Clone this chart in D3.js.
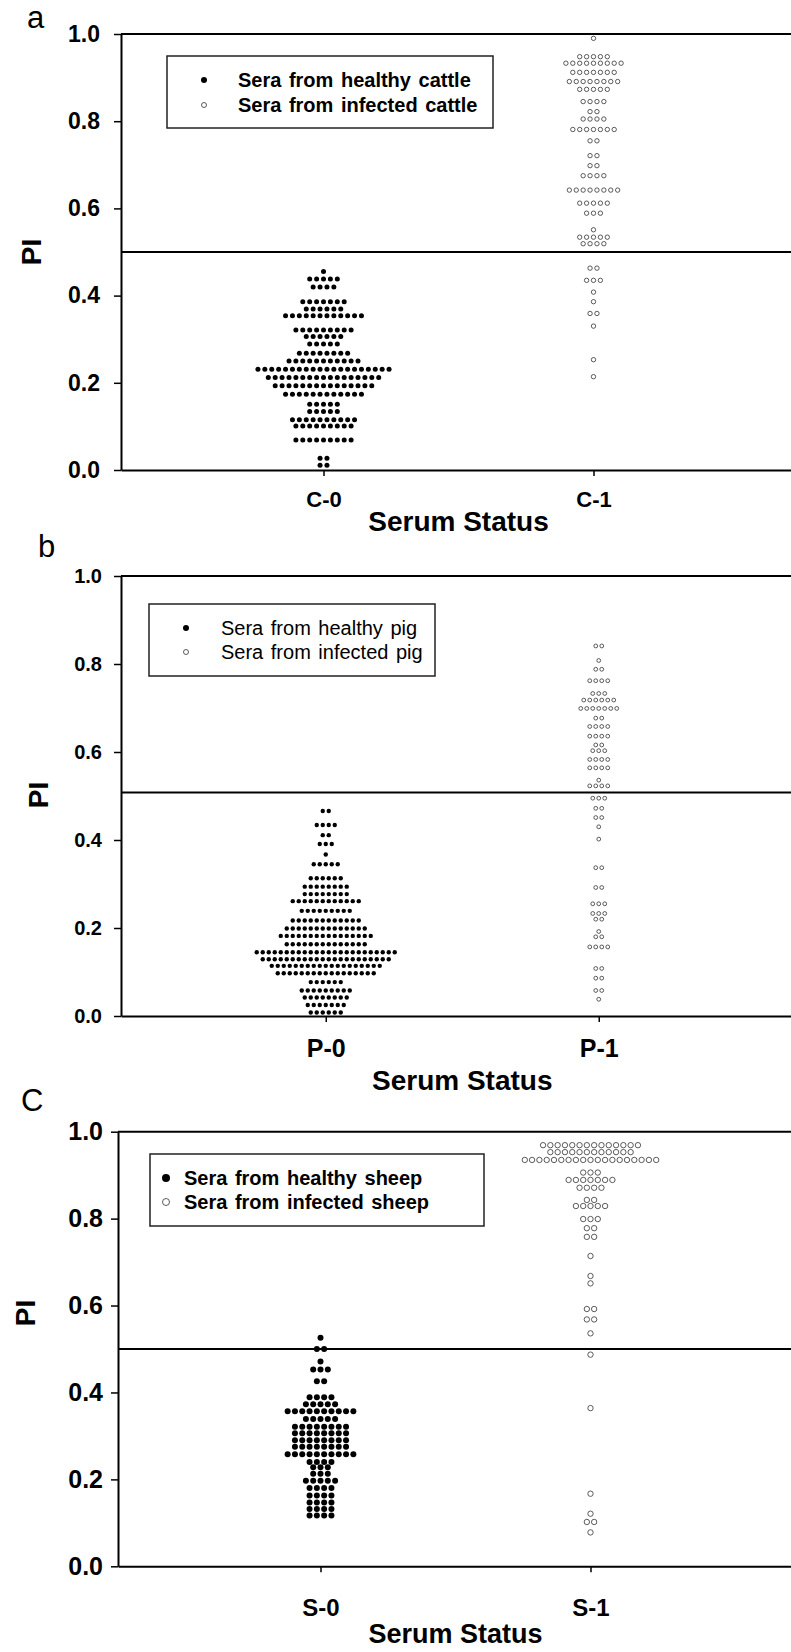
<!DOCTYPE html>
<html>
<head>
<meta charset="utf-8">
<script src="https://cdn.jsdelivr.net/npm/d3@7"></script>
<style>
  body { margin: 0; background: #fff; }
  svg { display: block; }
</style>
</head>
<body>
<svg width="791" height="1652"></svg>
<script>
// each row: [PI value, number of sera at that value]
const cattleHealthy = [[0.455,1],[0.438,5],[0.42,4],[0.386,7],[0.369,6],[0.354,12],[0.321,9],[0.306,6],[0.289,5],[0.268,8],[0.25,11],[0.231,20],[0.212,17],[0.193,15],[0.174,12],[0.151,5],[0.134,5],[0.115,10],[0.101,9],[0.069,9],[0.027,2],[0.011,2]]
const cattleInfected = [[0.99,1],[0.948,5],[0.933,9],[0.912,7],[0.891,8],[0.873,5],[0.845,4],[0.822,2],[0.805,4],[0.781,7],[0.755,2],[0.721,2],[0.698,2],[0.675,4],[0.642,8],[0.612,5],[0.589,3],[0.551,1],[0.534,5],[0.519,4],[0.463,2],[0.435,3],[0.408,1],[0.386,1],[0.359,2],[0.33,1],[0.253,1],[0.214,1]]
const pigHealthy = [[0.466,2],[0.434,4],[0.411,2],[0.391,3],[0.367,1],[0.345,5],[0.313,6],[0.294,8],[0.277,8],[0.261,12],[0.239,9],[0.217,12],[0.199,14],[0.182,16],[0.163,14],[0.145,24],[0.129,22],[0.114,19],[0.097,17],[0.077,6],[0.058,9],[0.042,8],[0.025,7],[0.008,6]]
const pigInfected = [[0.841,2],[0.808,1],[0.788,2],[0.762,4],[0.733,3],[0.718,6],[0.699,7],[0.677,2],[0.658,4],[0.636,4],[0.616,2],[0.603,3],[0.583,4],[0.564,4],[0.536,1],[0.523,4],[0.495,3],[0.472,2],[0.451,2],[0.43,1],[0.402,1],[0.337,2],[0.292,2],[0.255,3],[0.233,3],[0.22,2],[0.192,1],[0.18,2],[0.157,4],[0.108,2],[0.086,2],[0.058,2],[0.038,1]]
const sheepHealthy = [[0.526,1],[0.5,2],[0.471,1],[0.453,3],[0.426,2],[0.389,4],[0.373,5],[0.357,10],[0.339,5],[0.321,8],[0.306,8],[0.29,8],[0.275,8],[0.258,10],[0.24,4],[0.228,3],[0.213,3],[0.197,5],[0.18,4],[0.163,4],[0.147,4],[0.132,4],[0.117,4]]
const sheepInfected = [[0.969,14],[0.953,12],[0.935,19],[0.906,3],[0.889,7],[0.871,4],[0.843,2],[0.829,5],[0.799,3],[0.778,2],[0.758,2],[0.714,1],[0.668,1],[0.651,1],[0.592,2],[0.568,2],[0.536,1],[0.487,1],[0.364,1],[0.167,1],[0.121,1],[0.102,2],[0.078,1]]

const yTicks = [0, 0.2, 0.4, 0.6, 0.8, 1.0]
const cattleCats = ["C-0", "C-1"]
const pigCats = ["P-0", "P-1"]
const sheepCats = ["S-0", "S-1"]
const cattleLegend = ["Sera from healthy cattle", "Sera from infected cattle"]
const pigLegend = ["Sera from healthy pig", "Sera from infected pig"]
const sheepLegend = ["Sera from healthy sheep", "Sera from infected sheep"]
const cutoffs = [0.5, 0.508, 0.5]

const FONT = "'Liberation Sans', Arial, sans-serif"
const svg = d3.select("svg")

const panels = [
  { letter: "a", lx: 27, ly: 28, top: 34, bottom: 470, left: 121, step: 270, r: 2.5, pitch: 6.9,
    tickFont: 23, yPad: 14, catFont: 22, catY: 37, titleY: 531, titleFont: 28, piX: 41, piY: 252,
    cats: cattleCats, groups: [cattleHealthy, cattleInfected], cutoff: cutoffs[0],
    legend: cattleLegend, box: [167, 56, 493, 128], mx: 204, tx: 238, rows: [80, 105], lBold: true, mr: 3 },
  { letter: "b", lx: 38, ly: 557, top: 576, bottom: 1016, left: 121, step: 273, r: 2.2, pitch: 6,
    tickFont: 20, yPad: 12, catFont: 25, catY: 41, titleY: 1090, titleFont: 28, piX: 48, piY: 795,
    cats: pigCats, groups: [pigHealthy, pigInfected], cutoff: cutoffs[1],
    legend: pigLegend, box: [149, 604, 435, 676], mx: 186, tx: 221, rows: [628, 652], lBold: false, mr: 3 },
  { letter: "C", lx: 21, ly: 1111, top: 1131.7, bottom: 1566.3, left: 118, step: 270, r: 3, pitch: 7.3,
    tickFont: 25, yPad: 8, catFont: 24, catY: 50, titleY: 1643, titleFont: 27, piX: 35, piY: 1313,
    cats: sheepCats, groups: [sheepHealthy, sheepInfected], cutoff: cutoffs[2],
    legend: sheepLegend, box: [150, 1154, 484, 1226], mx: 166, tx: 184, rows: [1178, 1202], lBold: true, mr: 4 }
]

function drawPanel(p) {
  const g = svg.append("g").attr("font-family", FONT)
  const y = d3.scaleLinear().domain([0, 1]).range([p.bottom, p.top])
  const x = d3.scaleLinear().domain([-0.75, 1.75]).range([p.left, p.left + 2.5 * p.step])

  g.append("text").text(p.letter)
    .attr("x", p.lx).attr("y", p.ly).attr("font-size", 31)

  // top frame + cut-off line
  g.append("line")
    .attr("x1", p.left).attr("x2", x(1.75)).attr("y1", y(1)).attr("y2", y(1))
    .attr("stroke", "#000").attr("stroke-width", 2)
  g.append("line")
    .attr("x1", p.left).attr("x2", x(1.75)).attr("y1", y(p.cutoff)).attr("y2", y(p.cutoff))
    .attr("stroke", "#000").attr("stroke-width", 2)

  g.append("g")
    .attr("transform", `translate(${p.left},0)`)
    .call(d3.axisLeft(y).tickValues(yTicks).tickFormat(d3.format(".1f"))
      .tickSize(7).tickSizeOuter(0).tickPadding(p.yPad))
    .call(a => {
      a.attr("font-family", FONT)
      a.select(".domain").attr("stroke-width", 2)
      a.selectAll(".tick line").attr("stroke-width", 1.5)
      a.selectAll("text").attr("font-size", p.tickFont).attr("font-weight", "bold").attr("fill", "#000")
    })

  g.append("g")
    .attr("transform", `translate(0,${p.bottom})`)
    .call(d3.axisBottom(x).tickValues([0, 1]).tickFormat(i => p.cats[i])
      .tickSize(6).tickSizeOuter(0))
    .call(a => {
      a.attr("font-family", FONT)
      a.select(".domain").attr("stroke-width", 2)
      a.selectAll(".tick line").attr("stroke-width", 1.5)
      a.selectAll("text").attr("y", p.catY).attr("dy", null)
        .attr("font-size", p.catFont).attr("font-weight", "bold").attr("fill", "#000")
    })

  g.append("text").text("Serum Status")
    .attr("x", (x(0) + x(1)) / 2).attr("y", p.titleY)
    .attr("text-anchor", "middle").attr("font-size", p.titleFont).attr("font-weight", "bold")

  g.append("text").text("PI")
    .attr("transform", `translate(${p.piX},${p.piY}) rotate(-90)`)
    .attr("text-anchor", "middle").attr("font-size", 28).attr("font-weight", "bold")

  // dots, one row per value, centred on the category
  p.groups.forEach((rows, i) => {
    const pts = rows.flatMap(([v, n]) => d3.range(n).map(k => ({ v, dx: (k - (n - 1) / 2) * p.pitch })))
    g.append("g").selectAll("circle")
      .data(pts)
      .join("circle")
      .attr("cx", d => x(i) + d.dx)
      .attr("cy", d => y(d.v))
      .attr("r", i === 0 ? p.r : p.r - 0.3)
      .attr("fill", i === 0 ? "#000" : "none")
      .attr("stroke", i === 0 ? "none" : "#333")
      .attr("stroke-width", 0.8)
  })

  // legend
  const [bx0, by0, bx1, by1] = p.box
  const lg = g.append("g")
  lg.append("rect")
    .attr("x", bx0).attr("y", by0).attr("width", bx1 - bx0).attr("height", by1 - by0)
    .attr("fill", "#fff").attr("stroke", "#222").attr("stroke-width", 1.5)
  p.legend.forEach((label, i) => {
    lg.append("circle")
      .attr("cx", p.mx).attr("cy", p.rows[i]).attr("r", i === 0 ? p.mr : p.mr - 0.5)
      .attr("fill", i === 0 ? "#000" : "none")
      .attr("stroke", i === 0 ? "none" : "#333").attr("stroke-width", 0.8)
    lg.append("text").text(label)
      .attr("x", p.tx).attr("y", p.rows[i]).attr("dy", "0.35em")
      .attr("font-size", 20).attr("word-spacing", 2)
      .attr("font-weight", p.lBold ? "bold" : "normal")
  })
}

panels.forEach(drawPanel)
</script>
</body>
</html>
